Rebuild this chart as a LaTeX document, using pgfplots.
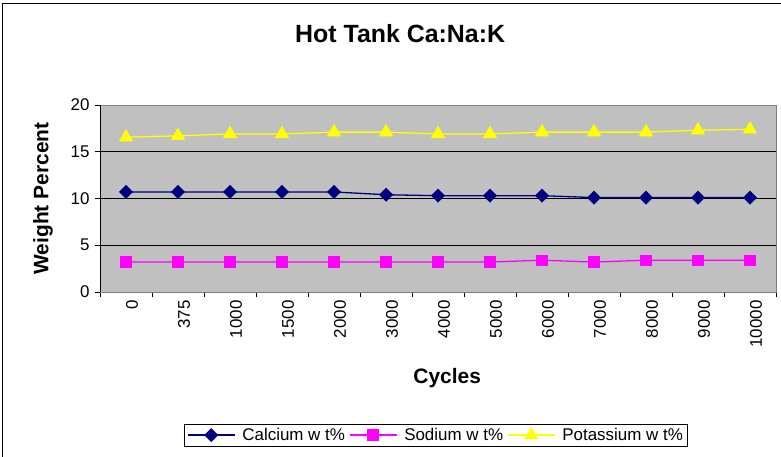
\documentclass[border=0pt]{standalone}
\usepackage{pgfplots}
\pgfplotsset{compat=1.18}
\usepackage{fontspec}
\setmainfont{Liberation Sans}

\definecolor{plotgray}{HTML}{C0C0C0}
\definecolor{canavy}{HTML}{000080}
\definecolor{namag}{HTML}{FF00FF}
\definecolor{kyel}{HTML}{FFFF00}

\begin{document}
\begin{tikzpicture}[x=1bp,y=1bp]
\useasboundingbox (0,0) rectangle (781,457);
\draw[black, line width=0.8bp] (2,0) -- (2,454) -- (781,454);

\begin{axis}[
    at={(100bp,165bp)}, anchor=south west,
    scale only axis,
    width=676bp, height=187bp,
    xmin=-0.5, xmax=12.5,
    ymin=0, ymax=20,
    ytick={0,5,10,15,20},
    xtick={0,...,12},
    xticklabels={0,375,1000,1500,2000,3000,4000,5000,6000,7000,8000,9000,10000},
    minor xtick={-0.5,0.5,...,12.5},
    major x tick style={draw=none},
    tick align=outside,
    major tick length=5bp,
    minor tick length=5bp,
    tick style={black, line width=0.8bp},
    xtick pos=bottom, ytick pos=left,
    ymajorgrids,
    grid style={black, line width=0.8bp},
    axis background/.style={fill=plotgray},
    axis line style={gray, line width=0.8bp},
    /pgf/number format/assume math mode=true,
    ticklabel style={font=\fontsize{17}{20}\selectfont},
    xticklabel style={rotate=90, anchor=east, yshift=-6bp},
    yticklabel style={xshift=-2bp},
    title={Hot Tank Ca:Na:K},
    title style={font=\fontsize{25}{30}\selectfont\bfseries, at={(axis description cs:0.444,1.348)}, anchor=center},
    xlabel={Cycles},
    xlabel style={font=\fontsize{21}{25}\selectfont\bfseries, at={(axis description cs:0.5136,-0.46)}, anchor=center},
    ylabel={Weight Percent},
    ylabel style={font=\fontsize{21}{25}\selectfont\bfseries, at={(axis description cs:-0.0843,0.5)}, anchor=center},
    legend columns=3,
    legend style={at={(axis description cs:0.497,-0.765)}, anchor=center,
        draw=black, fill=white, line width=0.8bp,
        font=\fontsize{17}{20}\selectfont,
        /tikz/every odd column/.append style={column sep=5bp},
        /tikz/every even column/.append style={column sep=2bp},
        inner xsep=3bp, inner ysep=2bp},
    legend image code/.code={
        \draw[mark repeat=2, mark phase=2, #1] plot coordinates {(0bp,0bp) (23.5bp,0bp) (47bp,0bp)};
    },
]

\addplot[canavy, line width=1.3bp, mark=square*, mark size=4.3bp, mark options={rotate=45, solid}] coordinates {
    (0,10.7) (1,10.7) (2,10.7) (3,10.7) (4,10.7) (5,10.4) (6,10.3)
    (7,10.3) (8,10.3) (9,10.1) (10,10.1) (11,10.1) (12,10.1)
};
\addlegendentry{Calcium w t\%}

\addplot[namag, line width=1.3bp, mark=square*, mark size=5bp] coordinates {
    (0,3.2) (1,3.2) (2,3.2) (3,3.2) (4,3.2) (5,3.2) (6,3.2)
    (7,3.2) (8,3.4) (9,3.2) (10,3.4) (11,3.4) (12,3.4)
};
\addlegendentry{Sodium w t\%}

\addplot[kyel, line width=1.3bp, mark=triangle*, mark size=7bp] coordinates {
    (0,16.55) (1,16.7) (2,16.9) (3,16.9) (4,17.1) (5,17.1) (6,16.9)
    (7,16.9) (8,17.1) (9,17.1) (10,17.1) (11,17.3) (12,17.4)
};
\addlegendentry{Potassium w t\%}

\draw[black, line width=0.8bp] (rel axis cs:0,1) -- (rel axis cs:0,0) -- (rel axis cs:1,0);
\end{axis}
\end{tikzpicture}
\end{document}
